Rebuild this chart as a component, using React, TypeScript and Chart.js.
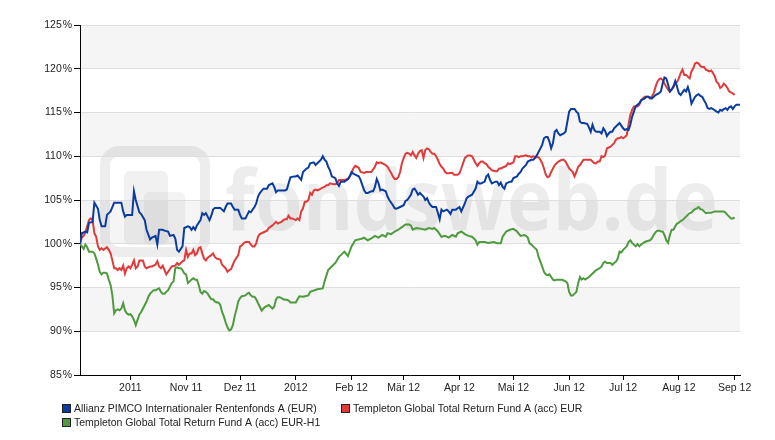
import { useEffect, useRef } from 'react';
import { Chart, registerables } from 'chart.js';

Chart.register(...registerables);

// x = days since 2011-09-03, y = indexed value in %
const tickDays = [28, 59, 89, 120, 151, 180, 211, 241, 272, 302, 333, 364];
const tickLabels = ['2011', 'Nov 11', 'Dez 11', '2012', 'Feb 12', 'Mär 12', 'Apr 12', 'Mai 12', 'Jun 12', 'Jul 12', 'Aug 12', 'Sep 12'];
const yTicks = [85, 90, 95, 100, 105, 110, 115, 120, 125];

const seriesNames = [
  'Allianz PIMCO Internationaler Rentenfonds A (EUR)',
  'Templeton Global Total Return Fund A (acc) EUR',
  'Templeton Global Total Return Fund A (acc) EUR-H1',
];

const allianz: [number, number][] = [
  [0,100.0],[1,101.2],[3,101.4],[4,101.3],[5,102.4],[7,102.5],[8,104.7],[10,104.0],[11,102.7],[12,102.0],[14,102.0],[15,103.3],[17,103.7],[19,104.7],[21,104.7],[23,104.7],[24,103.7],[25,103.1],[26,103.3],[29,103.3],[30,106.0],[31,105.0],[33,103.6],[34,103.4],[36,102.7],[37,101.6],[39,100.5],[40,100.7],[42,100.9],[43,99.9],[44,101.6],[46,101.6],[47,101.5],[49,101.4],[50,100.9],[52,101.0],[53,100.6],[54,99.3],[55,99.1],[57,99.7],[58,101.8],[60,102.0],[61,101.9],[62,101.6],[63,101.9],[64,101.6],[65,102.1],[67,102.7],[68,103.5],[69,103.3],[70,103.5],[72,102.7],[73,103.2],[74,103.9],[75,104.1],[78,104.1],[79,103.9],[80,103.7],[81,104.2],[82,104.6],[84,104.6],[85,104.2],[86,103.9],[88,103.9],[89,103.3],[90,102.9],[92,102.9],[93,103.3],[94,103.7],[95,103.6],[97,104.2],[98,104.6],[99,105.4],[100,105.8],[102,106.3],[104,106.3],[105,106.7],[107,106.9],[108,106.5],[109,105.9],[110,106.1],[114,106.1],[115,106.2],[116,106.9],[117,107.6],[119,107.7],[120,107.7],[121,107.8],[123,107.3],[124,108.2],[126,108.6],[127,108.7],[128,109.2],[130,109.3],[131,109.0],[133,109.4],[134,109.6],[135,110.0],[136,109.6],[137,109.4],[138,108.8],[139,108.4],[140,107.7],[142,107.5],[143,106.9],[144,106.6],[145,107.1],[147,107.1],[149,107.4],[150,107.7],[151,108.2],[152,108.0],[153,107.9],[155,107.7],[156,107.3],[157,106.7],[158,106.1],[159,105.8],[160,105.8],[162,106.0],[163,106.0],[164,106.5],[165,107.4],[166,106.9],[167,106.1],[168,106.2],[170,106.0],[171,105.4],[172,105.0],[174,104.4],[175,104.05],[176,104.0],[178,104.2],[180,104.4],[181,104.9],[182,105.0],[184,105.6],[185,106.2],[186,106.3],[187,106.0],[188,105.6],[189,105.8],[191,105.4],[192,105.0],[193,105.2],[194,104.7],[195,104.4],[196,104.2],[198,104.2],[199,103.55],[200,102.8],[201,103.9],[202,103.7],[204,103.9],[205,103.7],[206,103.4],[207,103.9],[209,103.9],[210,104.05],[211,104.2],[212,103.7],[214,104.6],[215,105.2],[216,105.4],[218,105.6],[220,106.3],[221,107.1],[222,106.9],[223,106.9],[225,107.1],[226,107.7],[227,107.9],[228,107.3],[229,106.9],[231,107.1],[232,107.1],[233,106.7],[234,107.0],[235,106.5],[236,106.3],[237,106.9],[239,107.1],[240,107.1],[241,107.5],[243,107.7],[244,108.0],[245,108.2],[246,108.6],[248,109.0],[249,109.4],[251,109.6],[252,109.6],[253,109.8],[254,110.1],[256,110.9],[257,111.3],[258,112.05],[259,112.2],[260,112.2],[261,111.7],[262,110.9],[263,111.5],[264,112.8],[265,113.0],[266,112.6],[267,112.4],[269,112.6],[270,112.8],[271,113.95],[272,115.1],[273,115.4],[275,115.4],[276,115.1],[277,114.9],[278,113.95],[279,113.8],[280,113.8],[282,113.7],[283,113.3],[284,112.8],[285,113.6],[286,113.0],[287,112.8],[289,112.8],[290,112.6],[291,113.2],[292,112.9],[293,112.3],[294,112.6],[295,112.8],[296,112.8],[297,113.2],[299,113.6],[300,113.8],[301,113.5],[302,113.2],[303,113.0],[304,113.1],[305,113.0],[306,113.6],[307,114.5],[308,115.1],[309,115.7],[311,116.05],[312,116.4],[314,116.6],[315,116.8],[316,116.8],[318,116.6],[319,116.8],[320,117.0],[322,117.2],[323,117.4],[324,118.3],[325,119.0],[326,118.9],[327,118.2],[328,117.4],[329,117.6],[330,118.0],[331,118.6],[332,117.95],[333,117.2],[334,117.0],[335,117.3],[336,117.6],[337,117.4],[338,117.9],[339,117.2],[340,116.0],[341,116.4],[342,116.8],[343,117.0],[344,117.1],[345,116.9],[346,116.8],[347,116.4],[348,116.05],[349,115.5],[350,115.4],[351,115.5],[352,115.4],[354,115.1],[355,115.0],[356,115.3],[357,115.2],[358,115.4],[359,115.5],[360,115.3],[361,115.6],[362,115.7],[363,115.4],[364,115.7],[365,115.9],[366,115.9],[367,115.9],
];

const templetonEur: [number, number][] = [
  [0,100.0],[1,100.7],[2,100.9],[3,101.3],[4,102.0],[5,102.7],[6,102.9],[7,102.7],[8,101.2],[9,100.8],[10,99.7],[11,99.3],[12,99.5],[13,99.3],[15,99.6],[16,99.3],[17,98.9],[18,98.1],[19,97.2],[20,97.2],[21,97.0],[22,97.2],[23,97.0],[24,97.5],[25,96.6],[26,97.2],[27,97.4],[28,97.2],[29,97.6],[30,98.1],[31,97.2],[32,97.4],[33,98.1],[35,98.1],[36,97.4],[37,97.2],[39,97.4],[40,97.4],[42,97.6],[43,98.0],[44,97.4],[45,97.2],[46,97.5],[47,97.0],[48,96.5],[49,96.8],[51,97.4],[53,97.5],[54,97.8],[55,97.6],[57,98.0],[58,98.1],[59,99.3],[60,98.5],[61,98.9],[62,98.9],[63,99.3],[64,98.7],[65,98.9],[66,99.5],[67,99.6],[68,98.9],[69,98.3],[70,98.1],[71,98.4],[73,98.7],[74,98.9],[75,98.5],[76,98.3],[78,98.2],[79,97.6],[80,97.4],[81,97.2],[82,96.8],[83,97.0],[84,97.1],[85,97.6],[86,98.1],[88,98.7],[89,99.7],[90,99.8],[91,100.05],[92,100.2],[94,100.2],[95,99.9],[96,99.7],[97,99.7],[98,100.05],[99,100.8],[100,101.1],[101,101.2],[103,101.4],[104,101.5],[105,101.8],[107,102.1],[108,102.3],[109,102.5],[110,102.3],[112,102.5],[113,102.7],[114,102.8],[115,102.8],[116,103.2],[117,102.9],[118,102.9],[120,102.7],[121,102.9],[122,102.7],[123,103.7],[124,104.05],[125,104.8],[126,104.8],[127,105.0],[128,105.8],[129,105.6],[130,106.1],[131,106.2],[132,106.1],[133,106.2],[135,106.45],[136,106.5],[137,106.7],[138,106.7],[139,106.9],[141,106.8],[142,106.8],[143,106.9],[144,107.3],[146,107.3],[147,107.3],[149,107.4],[150,107.7],[151,108.05],[152,108.6],[153,108.9],[154,108.8],[155,108.7],[156,108.2],[158,108.1],[159,108.2],[162,108.2],[163,108.5],[164,108.8],[165,109.3],[166,109.2],[167,109.3],[168,109.2],[169,109.1],[170,109.0],[171,108.8],[173,108.1],[174,107.7],[175,107.4],[176,107.4],[177,107.6],[178,108.2],[179,109.2],[180,109.8],[181,110.3],[182,110.4],[183,110.3],[184,110.1],[185,110.5],[186,110.1],[187,109.8],[188,110.3],[189,110.6],[190,110.7],[191,109.8],[192,110.7],[193,110.9],[194,110.8],[195,110.5],[196,110.3],[197,110.3],[198,110.0],[199,109.6],[200,109.1],[201,108.8],[202,108.6],[203,108.2],[204,108.05],[205,108.05],[207,108.1],[208,107.9],[209,107.9],[210,107.9],[211,108.05],[212,108.6],[213,109.2],[214,109.8],[215,110.0],[216,110.1],[217,110.1],[218,110.0],[219,109.6],[220,109.2],[221,108.9],[222,109.2],[223,109.4],[224,109.4],[225,109.2],[226,109.1],[227,108.8],[228,108.6],[229,108.4],[231,108.3],[232,108.3],[233,108.6],[234,108.6],[236,108.8],[237,108.9],[238,109.2],[239,109.1],[240,109.2],[241,109.3],[242,110.0],[243,110.0],[244,109.9],[245,110.0],[246,110.0],[248,110.1],[249,110.0],[250,110.0],[251,109.9],[252,110.0],[254,109.9],[255,109.9],[256,109.6],[257,109.2],[258,108.6],[259,107.9],[260,107.6],[261,107.7],[262,108.2],[263,108.6],[264,109.0],[265,109.2],[266,109.4],[268,109.6],[269,109.6],[270,109.4],[271,109.0],[272,108.6],[273,108.4],[274,108.2],[275,107.7],[276,108.2],[277,108.8],[278,109.0],[279,109.3],[280,109.6],[283,109.6],[284,109.6],[285,109.4],[286,109.2],[287,109.2],[288,109.4],[289,109.4],[290,110.0],[291,109.9],[292,110.1],[293,110.9],[294,111.0],[295,111.1],[296,111.3],[297,111.5],[298,111.9],[299,112.05],[300,112.05],[301,112.2],[302,112.05],[303,112.2],[304,112.4],[305,113.6],[306,114.7],[307,115.3],[308,115.7],[309,115.7],[310,115.7],[311,115.9],[312,116.4],[313,116.6],[314,116.8],[316,116.8],[317,116.6],[318,116.8],[319,117.2],[320,117.9],[321,118.5],[322,118.8],[323,118.9],[324,118.7],[325,118.3],[326,117.95],[327,117.6],[328,117.4],[329,117.65],[330,117.9],[331,118.3],[332,118.5],[333,118.9],[334,119.5],[335,119.9],[336,119.3],[337,119.3],[338,119.1],[339,118.9],[340,119.7],[341,120.05],[342,120.6],[343,120.7],[344,120.6],[345,120.3],[346,120.2],[347,120.2],[348,119.9],[349,119.8],[350,119.7],[351,119.8],[352,119.5],[353,119.1],[354,118.5],[355,118.3],[356,117.8],[357,117.95],[358,118.3],[359,118.1],[360,117.8],[361,117.4],[362,117.3],[363,117.2],[364,117.0],
];

const templetonH1: [number, number][] = [
  [0,100.0],[1,99.7],[2,99.4],[3,99.9],[4,99.6],[5,99.1],[7,99.1],[8,98.9],[9,98.3],[10,97.6],[11,96.8],[12,96.5],[13,96.7],[14,96.7],[15,96.6],[16,95.9],[17,95.3],[18,94.1],[19,92.05],[20,92.4],[21,92.5],[22,92.4],[23,92.6],[24,93.2],[25,92.4],[26,92.05],[27,91.9],[28,91.95],[29,91.7],[30,91.3],[31,90.7],[32,91.3],[33,91.9],[34,92.2],[35,92.6],[36,93.0],[37,93.4],[38,93.95],[39,94.3],[40,94.5],[41,94.7],[42,94.7],[44,94.9],[45,94.5],[46,94.3],[47,94.3],[48,94.5],[49,94.7],[50,95.1],[51,95.5],[52,95.7],[53,97.2],[54,97.3],[55,97.2],[56,97.2],[57,97.0],[58,96.6],[59,96.5],[60,95.5],[61,95.7],[62,95.9],[63,96.05],[64,95.9],[65,95.9],[66,95.3],[67,94.5],[68,94.3],[69,94.6],[70,94.5],[71,94.3],[72,93.95],[73,93.65],[74,93.65],[75,93.4],[76,93.3],[77,93.3],[78,93.0],[79,92.2],[80,91.7],[81,91.0],[82,90.45],[83,90.1],[84,90.2],[85,90.7],[86,91.7],[87,92.5],[88,93.4],[89,93.8],[90,94.0],[92,94.1],[93,94.3],[94,94.4],[95,94.1],[96,93.95],[97,93.95],[98,93.65],[99,93.2],[100,92.8],[101,92.35],[102,92.6],[103,92.8],[105,93.0],[106,92.8],[107,92.6],[108,92.8],[109,93.65],[110,93.9],[111,93.9],[112,93.8],[113,93.65],[114,93.6],[115,93.6],[116,93.5],[117,93.3],[118,93.3],[120,93.3],[121,93.65],[122,94.0],[124,93.95],[127,94.1],[128,94.5],[132,94.8],[135,94.9],[136,95.7],[138,97.0],[140,97.4],[142,97.8],[144,98.5],[145,98.7],[147,99.1],[149,98.6],[151,99.7],[153,100.4],[157,100.6],[158,100.7],[160,100.4],[162,100.6],[164,100.9],[166,100.7],[168,101.0],[170,100.8],[171,101.2],[173,101.1],[175,101.4],[177,101.6],[179,101.9],[181,102.2],[183,102.2],[184,102.1],[185,101.6],[187,101.8],[190,101.7],[192,101.6],[194,101.8],[196,101.7],[197,101.8],[199,101.4],[201,100.8],[203,100.9],[205,100.7],[207,101.0],[209,100.8],[210,101.2],[212,101.4],[214,101.1],[216,100.9],[218,100.8],[220,100.4],[221,99.9],[222,100.2],[225,100.2],[227,100.1],[230,100.2],[232,100.05],[234,100.05],[235,100.8],[237,101.4],[239,101.6],[241,101.7],[243,101.4],[245,100.9],[247,101.0],[248,100.9],[249,100.7],[250,100.05],[251,99.9],[252,99.7],[253,99.5],[254,99.3],[255,98.5],[256,97.95],[257,97.4],[258,96.8],[259,96.5],[260,96.4],[261,96.5],[262,96.2],[263,95.9],[264,95.8],[265,95.9],[268,95.9],[269,95.8],[270,95.7],[271,95.5],[272,94.5],[273,94.1],[274,94.1],[275,94.3],[276,94.5],[277,95.5],[278,96.2],[279,95.9],[280,96.05],[281,95.9],[282,96.05],[283,96.2],[284,96.4],[285,96.6],[286,96.8],[287,97.0],[288,97.1],[289,97.2],[290,97.4],[291,97.8],[292,97.95],[293,97.8],[295,97.8],[296,97.6],[297,97.8],[298,97.95],[299,98.3],[300,99.1],[301,99.0],[302,99.3],[303,99.5],[304,99.7],[305,100.2],[306,100.4],[307,100.1],[308,99.9],[309,99.7],[310,99.95],[311,99.7],[312,99.9],[313,100.05],[314,100.2],[316,100.35],[317,100.4],[318,100.6],[319,101.0],[320,101.3],[321,101.5],[322,101.5],[323,101.4],[324,101.4],[325,101.0],[326,100.4],[327,100.1],[328,101.0],[329,101.6],[330,101.6],[331,102.0],[332,102.3],[333,102.4],[334,102.6],[335,102.7],[336,102.9],[337,103.1],[338,103.3],[339,103.5],[340,103.55],[341,103.8],[342,103.95],[343,104.05],[344,104.2],[345,103.95],[346,103.9],[347,103.7],[348,103.5],[349,103.55],[351,103.55],[353,103.7],[355,103.7],[357,103.7],[358,103.7],[359,103.55],[360,103.3],[361,103.1],[362,102.9],[363,102.9],[364,103.0],
];

const seriesColors = ['#0a3c9f', '#e03a3a', '#4e9a3e'];
const FONT = "'Liberation Sans', Arial, sans-serif";
const FONT_SIZE = 10.5;

const bandsPlugin = {
  id: 'bandsAndWatermark',
  beforeDraw(chart: any) {
    const { ctx, chartArea, scales } = chart;
    const y = scales.y;
    ctx.save();
    ctx.fillStyle = '#f5f5f5';
    for (let i = 0; i < yTicks.length - 1; i++) {
      const lo = yTicks[i];
      const hi = yTicks[i + 1];
      if (i % 2 === 1) {
        const top = y.getPixelForValue(hi);
        const bot = y.getPixelForValue(lo);
        ctx.fillRect(chartArea.left, top, chartArea.right - chartArea.left, bot - top);
      }
    }
    // watermark logo
    const wm = 'rgba(0,0,0,0.07)';
    ctx.strokeStyle = wm;
    ctx.lineWidth = 10;
    ctx.beginPath();
    ctx.roundRect(105, 151, 100, 101, 14);
    ctx.stroke();
    ctx.fillStyle = 'rgba(0,0,0,0.055)';
    ctx.beginPath();
    ctx.roundRect(124, 171, 44, 74, 6);
    ctx.fill();
    ctx.fillStyle = 'rgba(0,0,0,0.045)';
    ctx.beginPath();
    ctx.roundRect(144, 192, 41, 53, 5);
    ctx.fill();
    // watermark text
    ctx.fillStyle = wm;
    ctx.font = "bold 84px 'Open Sans', 'DejaVu Sans', sans-serif";
    ctx.textBaseline = 'alphabetic';
    ctx.textAlign = 'left';
    const txt = 'fondsweb.de';
    const w = ctx.measureText(txt).width;
    ctx.translate(225, 230);
    ctx.scale(493 / w, 1);
    ctx.fillText(txt, 0, 0);
    ctx.restore();
  },
  afterDraw(chart: any) {
    const { ctx } = chart;
    ctx.save();
    ctx.font = `${FONT_SIZE}px ${FONT}`;
    ctx.textBaseline = 'middle';
    ctx.textAlign = 'left';
    const pos = [[62, 404], [341, 404], [62, 418]];
    seriesNames.forEach((name, i) => {
      const [px, py] = pos[i];
      ctx.fillStyle = seriesColors[i];
      ctx.fillRect(px, py, 9, 9);
      ctx.strokeStyle = '#222';
      ctx.lineWidth = 1;
      ctx.strokeRect(px + 0.5, py + 0.5, 8, 8);
      ctx.fillStyle = '#222';
      ctx.fillText(name, px + 12, py + 5);
    });
    ctx.restore();
  },
};

export default function App() {
  const ref = useRef<HTMLCanvasElement>(null);
  useEffect(() => {
    document.body.style.margin = '0';
    const series = [allianz, templetonEur, templetonH1];
    const chart = new Chart(ref.current!, {
      type: 'line',
      data: {
        datasets: series.map((s, i) => ({
          label: seriesNames[i],
          data: s.map(([d, v]) => ({ x: d, y: v })),
          borderColor: seriesColors[i],
          backgroundColor: seriesColors[i],
          borderWidth: 2,
          pointRadius: 0,
          tension: 0,
          fill: false,
        })),
      },
      options: {
        responsive: false,
        animation: false,
        devicePixelRatio: 1,
        layout: { padding: { top: 25, right: 35, left: 0, bottom: 0 } },
        plugins: { legend: { display: false }, tooltip: { enabled: false } },
        scales: {
          x: {
            type: 'linear',
            min: 0,
            max: 367,
            afterFit: (s: any) => { s.height = 65; },
            afterBuildTicks: (s: any) => { s.ticks = tickDays.map((v) => ({ value: v })); },
            ticks: {
              autoSkip: false,
              maxRotation: 0,
              padding: 2,
              color: '#222',
              font: { family: FONT, size: FONT_SIZE },
              callback: (v: any) => {
                const i = tickDays.indexOf(Number(v));
                return i >= 0 ? tickLabels[i] : '';
              },
            },
            grid: { display: true, drawOnChartArea: false, tickLength: 5, tickColor: '#000' },
            border: { display: true, color: '#000', width: 1 },
          },
          y: {
            min: 85,
            max: 125,
            afterFit: (s: any) => { s.width = 80; },
            afterBuildTicks: (s: any) => { s.ticks = yTicks.map((v) => ({ value: v })); },
            ticks: {
              padding: 2,
              color: '#222',
              font: { family: FONT, size: FONT_SIZE },
              callback: (v: any) => `${v}\u200A%`,
            },
            grid: { color: '#dedede', tickColor: '#000', tickLength: 6, lineWidth: 1 },
            border: { display: true, color: '#000', width: 1 },
          },
        },
      },
      plugins: [bandsPlugin],
    });
    return () => chart.destroy();
  }, []);
  return (
    <div style={{ width: 775, height: 440, position: 'relative' }}>
      <canvas ref={ref} width={775} height={440} style={{ display: 'block' }} />
    </div>
  );
}
